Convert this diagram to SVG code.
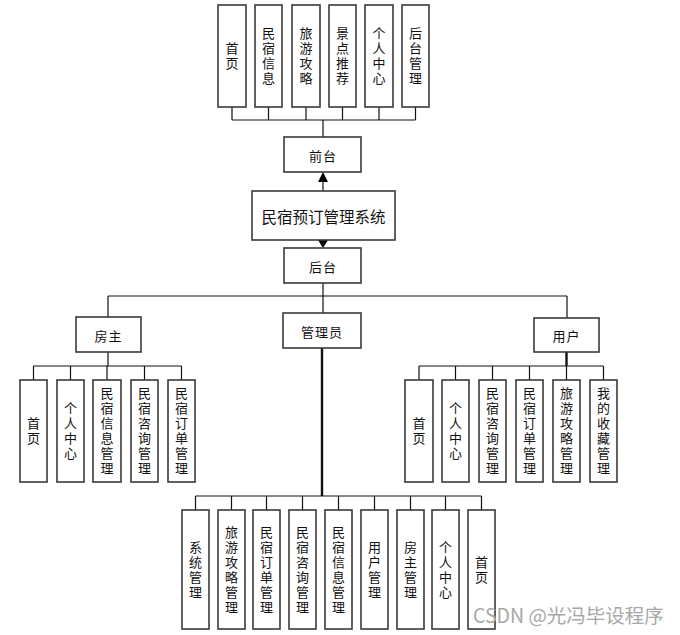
<svg xmlns="http://www.w3.org/2000/svg" width="680" height="635" viewBox="0 0 680 635">
<style>
.b{fill:#fff;stroke:#3a3a3a;stroke-width:1.6}
.t{font-family:"Noto Sans CJK SC","Noto Sans",sans-serif;font-size:13px;fill:#111;text-anchor:middle;dominant-baseline:central}
.v{font-family:"Noto Sans CJK SC","Noto Sans",sans-serif;font-size:13px;fill:#111;text-anchor:middle;writing-mode:vertical-rl;letter-spacing:2px}
.l{stroke:#111;stroke-width:1.2;fill:none}
.k{stroke:#111;stroke-width:2.4;fill:none}
</style>
<rect width="680" height="635" fill="#fff"/>
<g id="connectors">
<path class="l" d="M232,107V120M268.5,107V120M306,107V120M342.5,107V120M379,107V120M415.5,107V120M232,120H415.5M323,120V137"/>
<path class="l" d="M323,191V182"/>
<path d="M318,182L323,172L328,182Z" fill="#000"/>
<path d="M318,240L323,248L328,240Z" fill="#000"/>
<path class="l" d="M323,283V313M108,296H567M108,296V317M567,296V318"/>
<path class="l" d="M108,352V366M33.5,366H181.5M33.5,366V380M70.5,366V380M107,366V380M144.5,366V380M181.5,366V380"/>
<path class="k" d="M566.5,352V366"/>
<path class="l" d="M419,366H603.5M419,366V380M455.5,366V380M492.5,366V380M529.5,366V380M566.5,366V380M603.5,366V380"/>
<path class="k" d="M322,348V496"/>
<path class="l" d="M195.5,496H481.5M195.5,496V510M231.5,496V510M266.5,496V510M302.5,496V510M338.5,496V510M374.5,496V510M410.5,496V510M445.5,496V510M481.5,496V510"/>
</g>
<g id="n-shouye"><rect class="b" x="218" y="5" width="28" height="102"/><text class="v" x="232" y="57">首页</text></g>
<g id="n-minsuxinxi"><rect class="b" x="255" y="5" width="27" height="102"/><text class="v" x="268.5" y="57">民宿信息</text></g>
<g id="n-lvyougonglue"><rect class="b" x="292" y="5" width="28" height="102"/><text class="v" x="306" y="57">旅游攻略</text></g>
<g id="n-jingdian"><rect class="b" x="329" y="5" width="27" height="102"/><text class="v" x="342.5" y="57">景点推荐</text></g>
<g id="n-geren"><rect class="b" x="365" y="5" width="28" height="102"/><text class="v" x="379" y="57">个人中心</text></g>
<g id="n-houtaiguanli"><rect class="b" x="402" y="5" width="27" height="102"/><text class="v" x="415.5" y="57">后台管理</text></g>
<g id="n-qiantai"><rect class="b" x="284" y="137" width="77" height="35"/><text class="t" x="323" y="155" letter-spacing="1">前台</text></g>
<g id="n-system"><rect class="b" x="252" y="191" width="143" height="49"/><text class="t" x="323.5" y="215.5" style="font-size:15.5px">民宿预订管理系统</text></g>
<g id="n-houtai"><rect class="b" x="284" y="248" width="77" height="35"/><text class="t" x="323" y="266" letter-spacing="1">后台</text></g>
<g id="n-fangzhu"><rect class="b" x="76" y="317" width="65" height="35"/><text class="t" x="108.5" y="335" letter-spacing="1">房主</text></g>
<g id="n-guanliyuan"><rect class="b" x="283" y="313" width="78" height="35"/><text class="t" x="322" y="331" letter-spacing="1">管理员</text></g>
<g id="n-yonghu"><rect class="b" x="534" y="318" width="65" height="34"/><text class="t" x="566.5" y="335.5" letter-spacing="1">用户</text></g>
<g id="f-shouye"><rect class="b" x="20" y="380" width="27" height="102"/><text class="v" x="33.5" y="432">首页</text></g>
<g id="f-geren"><rect class="b" x="57" y="380" width="27" height="102"/><text class="v" x="70.5" y="432">个人中心</text></g>
<g id="f-xinxi"><rect class="b" x="93" y="380" width="28" height="102"/><text class="v" x="107" y="432">民宿信息管理</text></g>
<g id="f-zixun"><rect class="b" x="131" y="380" width="27" height="102"/><text class="v" x="144.5" y="432">民宿咨询管理</text></g>
<g id="f-dingdan"><rect class="b" x="168" y="380" width="27" height="102"/><text class="v" x="181.5" y="432">民宿订单管理</text></g>
<g id="u-shouye"><rect class="b" x="405" y="380" width="28" height="102"/><text class="v" x="419" y="432">首页</text></g>
<g id="u-geren"><rect class="b" x="442" y="380" width="27" height="102"/><text class="v" x="455.5" y="432">个人中心</text></g>
<g id="u-zixun"><rect class="b" x="479" y="380" width="27" height="102"/><text class="v" x="492.5" y="432">民宿咨询管理</text></g>
<g id="u-dingdan"><rect class="b" x="516" y="380" width="27" height="102"/><text class="v" x="529.5" y="432">民宿订单管理</text></g>
<g id="u-lvyou"><rect class="b" x="553" y="380" width="27" height="102"/><text class="v" x="566.5" y="432">旅游攻略管理</text></g>
<g id="u-shoucang"><rect class="b" x="590" y="380" width="27" height="102"/><text class="v" x="603.5" y="432">我的收藏管理</text></g>
<g id="a-xitong"><rect class="b" x="182" y="510" width="27" height="119"/><text class="v" x="195.5" y="570.5">系统管理</text></g>
<g id="a-lvyou"><rect class="b" x="218" y="510" width="27" height="119"/><text class="v" x="231.5" y="570.5">旅游攻略管理</text></g>
<g id="a-dingdan"><rect class="b" x="253" y="510" width="27" height="119"/><text class="v" x="266.5" y="570.5">民宿订单管理</text></g>
<g id="a-zixun"><rect class="b" x="289" y="510" width="27" height="119"/><text class="v" x="302.5" y="570.5">民宿咨询管理</text></g>
<g id="a-xinxi"><rect class="b" x="325" y="510" width="27" height="119"/><text class="v" x="338.5" y="570.5">民宿信息管理</text></g>
<g id="a-yonghu"><rect class="b" x="361" y="510" width="27" height="119"/><text class="v" x="374.5" y="570.5">用户管理</text></g>
<g id="a-fangzhu"><rect class="b" x="397" y="510" width="27" height="119"/><text class="v" x="410.5" y="570.5">房主管理</text></g>
<g id="a-geren"><rect class="b" x="432" y="510" width="27" height="119"/><text class="v" x="445.5" y="570.5">个人中心</text></g>
<g id="a-shouye"><rect class="b" x="468" y="510" width="27" height="119"/><text class="v" x="481.5" y="570.5">首页</text></g>
<text x="473" y="623" style="font-family:'Noto Sans CJK SC','Noto Sans',sans-serif;font-size:19.5px;fill:#a8a8a8">CSDN @光冯毕设程序</text>
</svg>
